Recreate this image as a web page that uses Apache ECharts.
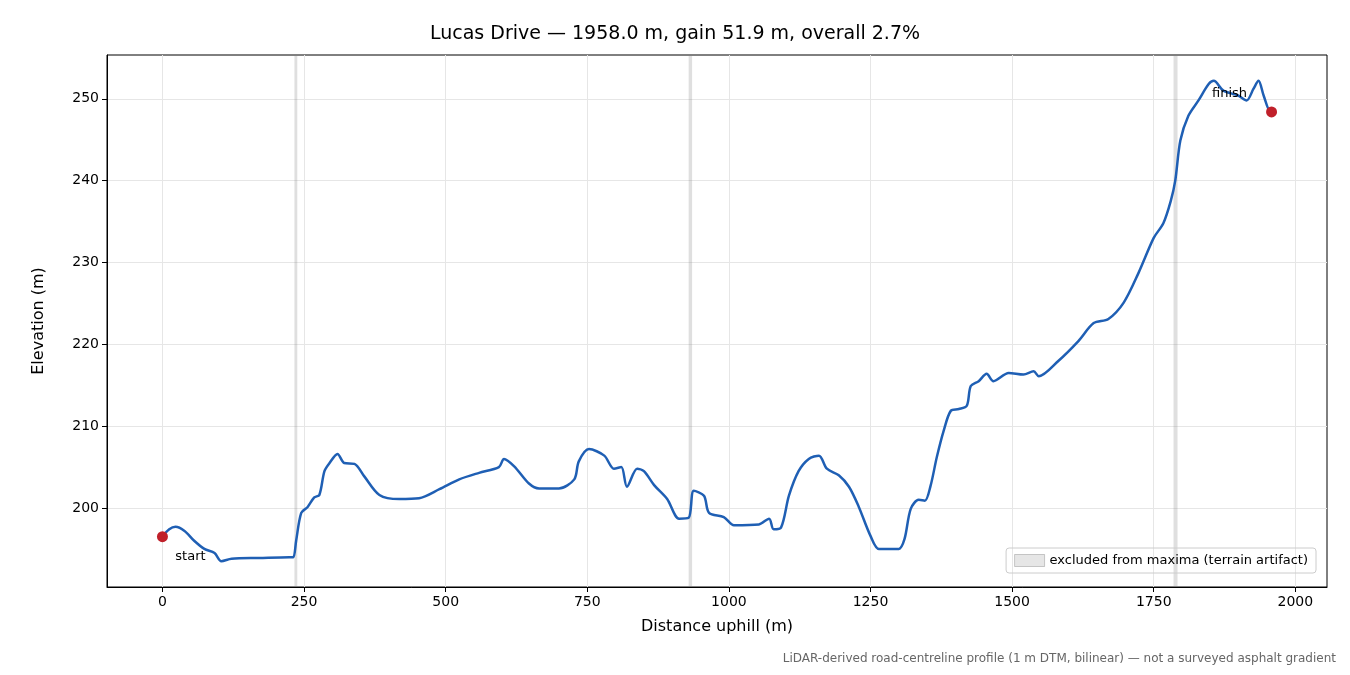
<!DOCTYPE html>
<html>
<head>
<meta charset="utf-8">
<script src="https://cdn.jsdelivr.net/npm/echarts@6/dist/echarts.min.js"></script>
<style>html,body{margin:0;padding:0;background:#fff}#main{width:1350px;height:675px}</style>
</head>
<body>
<div id="main"></div>
<script>
// distance (m) and elevation (m)
var dist = [0,12,23,39,56,74,92,104,122,171,224,231,236,245,256,268,277,286,295,309,321,339,356,383,418,453,489,524,559,594,603,621,647,665,700,727,735,753,780,797,810,820,838,850,868,891,912,929,938,956,965,991,1009,1053,1071,1079,1092,1106,1123,1141,1159,1173,1194,1212,1229,1250,1265,1300,1310,1321,1335,1346,1356,1367,1379,1392,1406,1420,1427,1441,1455,1467,1494,1520,1538,1547,1582,1617,1644,1670,1697,1723,1750,1767,1780,1788,1797,1811,1829,1847,1856,1873,1899,1914,1926,1935,1944,1956,1958];
var elev = [196.5,197.4,197.7,197.2,196.0,195.0,194.5,193.5,193.8,193.9,194.0,194.0,196.0,199.4,200.1,201.3,201.6,204.5,205.5,206.6,205.5,205.4,203.9,201.6,201.1,201.2,202.3,203.5,204.3,205.0,206.0,205.1,203.0,202.4,202.4,203.5,205.7,207.2,206.4,204.8,205.0,202.6,204.8,204.5,202.8,201.1,198.7,198.8,202.1,201.5,199.4,198.9,197.9,198.0,198.7,197.4,197.6,201.5,204.5,206.0,206.4,204.8,204.0,202.6,200.2,196.6,195.0,195.0,196.2,199.9,201.0,200.9,202.7,206.2,209.4,211.9,212.1,212.5,214.9,215.5,216.4,215.5,216.5,216.3,216.7,216.1,218.0,220.4,222.6,223.1,225.1,228.7,233.0,234.8,237.5,240.0,244.9,247.9,249.8,251.8,252.2,251.0,250.4,249.8,251.2,252.2,250.4,248.4,248.4];
var excluded = [[233,238],[929,935],[1785,1792]];
var endpoints = [[0,196.5,'start'],[1958,248.4,'finish']];
var xTicks = [0,250,500,750,1000,1250,1500,1750,2000];
var yTicks = [200,210,220,230,240,250];

var font = 'DejaVu Sans';
var chart = echarts.init(document.getElementById('main'));
chart.setOption({
  animation: false,
  title: {text: 'Lucas Drive — 1958.0 m, gain 51.9 m, overall 2.7%', left: 'center', top: 20,
    textStyle: {fontFamily: font, fontSize: 19, fontWeight: 'normal', color: '#000'}},
  graphic: [{type: 'text', right: 14, top: 653, style: {text: 'LiDAR-derived road-centreline profile (1 m DTM, bilinear) — not a surveyed asphalt gradient',
    fill: '#666', font: '12px "DejaVu Sans"'}}],
  legend: {right: 34, top: 548, itemWidth: 30, itemHeight: 12, borderColor: '#ccc', borderWidth: 1, borderRadius: 3, padding: [6, 8],
    textStyle: {fontFamily: font, fontSize: 13, color: '#000'},
    data: [{name: 'excluded from maxima (terrain artifact)', icon: 'rect', itemStyle: {color: 'rgba(128,128,128,0.2)', borderColor: 'rgba(128,128,128,0.4)', borderWidth: 1}}]},
  grid: {left: 107, right: 23, top: 55, bottom: 88, show: true, borderColor: '#000', borderWidth: 1},
  xAxis: {type: 'value', min: -97.9, max: 2055.9,
    name: 'Distance uphill (m)', nameLocation: 'middle', nameGap: 32, nameTextStyle: {fontFamily: font, fontSize: 16, color: '#000'},
    axisLine: {onZero: false, lineStyle: {color: '#000'}},
    axisTick: {show: true, length: 5, customValues: xTicks, lineStyle: {color: '#000'}},
    axisLabel: {fontFamily: font, fontSize: 14, color: '#000', customValues: xTicks, formatter: function (v) { return String(v); }},
    splitLine: {show: true, lineStyle: {color: '#e6e6e6'}}},
  yAxis: {type: 'value', min: 190.35, max: 255.35,
    name: 'Elevation (m)', nameLocation: 'middle', nameGap: 60, nameTextStyle: {fontFamily: font, fontSize: 16, color: '#000'},
    axisLine: {show: true, onZero: false, lineStyle: {color: '#000'}},
    axisTick: {show: true, length: 5, customValues: yTicks, lineStyle: {color: '#000'}},
    axisLabel: {fontFamily: font, fontSize: 14, color: '#000', customValues: yTicks},
    splitLine: {show: true, lineStyle: {color: '#e6e6e6'}}},
  series: [
    {name: 'excluded from maxima (terrain artifact)', type: 'line', data: [], silent: true,
      markArea: {silent: true, itemStyle: {color: 'rgba(128,128,128,0.25)'},
        data: excluded.map(function (e) { return [{xAxis: e[0]}, {xAxis: e[1]}]; })}},
    {type: 'line', data: dist.map(function (d, i) { return [d, elev[i]]; }), showSymbol: false, smooth: 0.3,
      lineStyle: {color: '#1f5fb4', width: 2.5}, z: 3},
    {type: 'scatter', data: endpoints.map(function (p) { return [p[0], p[1], p[2]]; }), symbolSize: 11,
      itemStyle: {color: '#c0202a', opacity: 1}, z: 4,
      label: {show: true, formatter: function (p) { return p.value[2]; }, fontFamily: font, fontSize: 13, color: '#000',
        position: 'inside'},
      labelLayout: function (p) {
        return p.dataIndex === 0 ? {dx: 28, dy: 20} : {dx: -42, dy: -18};
      }}
  ]
});
</script>
</body>
</html>
